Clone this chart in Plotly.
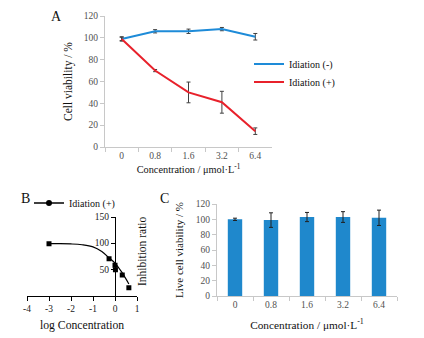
import plotly.graph_objects as go

# ---------------- data ----------------
conc_labels = ["0", "0.8", "1.6", "3.2", "6.4"]
viab_minus = [99, 106, 106, 108, 101]
err_minus = [2, 1.5, 2, 1.5, 3]
viab_plus = [99, 70, 50, 41, 14.5]
err_plus = [1.5, 1, 9.5, 10, 3]

logc_pts = [-3, -0.27, 0.0, 0.02, 0.33, 0.63]
inhib_pts = [99, 70, 58, 49, 39, 15]
logc_fit = [-3, -2.5, -2, -1.5, -1, -0.6, -0.27, 0, 0.3, 0.63]
inhib_fit = [99, 99, 98.5, 97, 93, 84, 72, 62, 45, 22]
b_xticks = [-4, -3, -2, -1, 0, 1]
b_xticklabels = ["-4", "-3", "-2", "-1", "0", "1"]
b_yticks = [50, 100, 150]

live_viab = [100, 99, 103, 103, 102]
live_err = [1.5, 9.5, 6, 7, 10]

# ---------------- styling ----------------
PAGE_W, PAGE_H = 424, 338
OFF = 8  # default body margin of the html page
W, H = PAGE_W - OFF, PAGE_H - OFF
SERIF = "Liberation Serif"
BLUE = "#1e8bd8"
RED = "#e8212b"
BAR = "#1f88cc"
GREY_AX = "#c8c8c8"
TICK_C = "#505050"


def px(x):  # page pixel -> paper fraction
    return (x - OFF) / W


def py(y):
    return 1 - (y - OFF) / H


fig = go.Figure()

# ---- Panel A ----
fig.add_trace(go.Scatter(
    x=conc_labels, y=viab_minus, mode="lines", name="Idiation (-)",
    line=dict(color=BLUE, width=2),
    error_y=dict(type="data", array=err_minus, color="#404040", thickness=1, width=2),
    xaxis="x", yaxis="y", legend="legend"))
fig.add_trace(go.Scatter(
    x=conc_labels, y=viab_plus, mode="lines", name="Idiation (+)",
    line=dict(color=RED, width=2),
    error_y=dict(type="data", array=err_plus, color="#404040", thickness=1, width=2),
    xaxis="x", yaxis="y", legend="legend3"))

# ---- Panel B ----
fig.add_trace(go.Scatter(
    x=logc_fit, y=inhib_fit, mode="lines", line=dict(color="black", width=1.2, shape="spline"),
    showlegend=False, xaxis="x2", yaxis="y2"))
fig.add_trace(go.Scatter(
    x=logc_pts, y=inhib_pts, mode="markers",
    marker=dict(color="black", symbol="square", size=5),
    showlegend=False, xaxis="x2", yaxis="y2"))
fig.add_trace(go.Scatter(
    x=[None], y=[None], mode="lines+markers", name="Idiation (+)",
    line=dict(color="black", width=1.5), marker=dict(color="black", symbol="circle", size=6),
    xaxis="x2", yaxis="y2", legend="legend2"))

# ---- Panel C ----
fig.add_trace(go.Bar(
    x=conc_labels, y=live_viab, marker=dict(color=BAR, line=dict(width=0)),
    error_y=dict(type="data", array=live_err, color="#202020", thickness=1, width=2),
    showlegend=False, xaxis="x3", yaxis="y3"))

tickfont_a = dict(family=SERIF, size=9.5, color=TICK_C)
common = dict(automargin=False, showgrid=False, zeroline=False)
legfont = dict(family=SERIF, size=10, color="#111")

fig.update_layout(
    template="none",
    width=W, height=H, autosize=False,
    margin=dict(l=0, r=0, t=0, b=0, pad=0),
    paper_bgcolor="white", plot_bgcolor="white",
    font=dict(family=SERIF, color="#111"),
    bargap=0.6,
    # A
    xaxis=dict(domain=[px(105), px(272)], anchor="y", type="category", range=[-0.5, 4.5],
               showline=True, linecolor=GREY_AX, linewidth=1, ticks="outside", tickson="boundaries",
               ticklen=4, tickcolor=GREY_AX, tickfont=tickfont_a,
               title=dict(text="Concentration / μmol·L<sup>-1</sup>",
                          font=dict(family=SERIF, size=10.3, color="#111"), standoff=5),
               **common),
    yaxis=dict(domain=[py(147), py(16)], anchor="x", range=[0, 120], dtick=20,
               showline=True, linecolor=GREY_AX, linewidth=1, ticks="outside", ticklen=4,
               tickcolor=GREY_AX, tickfont=tickfont_a,
               title=dict(text="Cell viability / %", font=dict(family=SERIF, size=11.5, color="#111"),
                          standoff=8), **common),
    # B
    xaxis2=dict(domain=[px(27), px(137)], anchor="y2", range=[-4, 1],
                tickvals=b_xticks, ticktext=b_xticklabels,
                showline=True, linecolor="black", linewidth=1.3, ticks="outside", ticklen=4,
                tickcolor="black", tickfont=dict(family=SERIF, size=9.5, color="#222"), **common),
    yaxis2=dict(domain=[py(295.5), py(217)], anchor="free", position=px(115), range=[0, 150],
                tickvals=b_yticks, showline=True, linecolor="black", linewidth=1.3,
                ticks="outside", ticklen=4, tickcolor="black",
                tickfont=dict(family=SERIF, size=9.5, color="#222"), **common),
    # C
    xaxis3=dict(domain=[px(217), px(397)], anchor="y3", type="category", range=[-0.5, 4.5],
                showline=True, linecolor=GREY_AX, linewidth=1, ticks="outside", tickson="boundaries",
                ticklen=4, tickcolor=GREY_AX, tickfont=tickfont_a,
                title=dict(text="Concentration / μmol·L<sup>-1</sup>",
                           font=dict(family=SERIF, size=11.3, color="#111"), standoff=11),
                **common),
    yaxis3=dict(domain=[py(296), py(204)], anchor="x3", range=[0, 120], dtick=20,
                showline=True, linecolor=GREY_AX, linewidth=1, ticks="outside", ticklen=4,
                tickcolor=GREY_AX, tickfont=tickfont_a,
                title=dict(text="Live cell viability / %", font=dict(family=SERIF, size=11, color="#111"),
                           standoff=9), **common),
    legend=dict(x=px(249), y=py(64), xanchor="left", yanchor="middle",
                font=legfont, bgcolor="rgba(0,0,0,0)"),
    legend3=dict(x=px(249), y=py(82), xanchor="left", yanchor="middle",
                 font=legfont, bgcolor="rgba(0,0,0,0)"),
    legend2=dict(x=px(29), y=py(203), xanchor="left", yanchor="middle",
                 font=legfont, bgcolor="rgba(0,0,0,0)"),
    annotations=[
        dict(text="A", x=px(56), y=py(16), xref="paper", yref="paper", showarrow=False,
             xanchor="center", yanchor="middle", font=dict(family=SERIF, size=14, color="#111")),
        dict(text="B", x=px(25), y=py(198), xref="paper", yref="paper", showarrow=False,
             xanchor="center", yanchor="middle", font=dict(family=SERIF, size=14, color="#111")),
        dict(text="C", x=px(164), y=py(198), xref="paper", yref="paper", showarrow=False,
             xanchor="center", yanchor="middle", font=dict(family=SERIF, size=14, color="#111")),
        dict(text="Inhibition ratio", x=px(142), y=py(251), xref="paper", yref="paper",
             xanchor="center", yanchor="middle",
             showarrow=False, textangle=-90, font=dict(family=SERIF, size=11.5, color="#111")),
        dict(text="log Concentration", x=px(82), y=py(325), xref="paper", yref="paper",
             xanchor="center", yanchor="middle",
             showarrow=False, font=dict(family=SERIF, size=11.7, color="#111")),
    ],
)

fig.write_html("out.html")
